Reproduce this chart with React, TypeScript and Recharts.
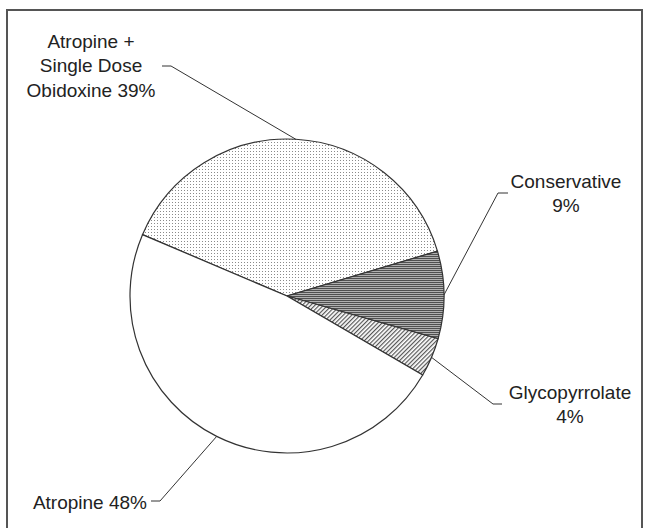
import React from "react";
import { PieChart, Pie, Cell } from "recharts";

// ---- data ----
const categories = [
  "Atropine + Single Dose Obidoxine",
  "Conservative",
  "Glycopyrrolate",
  "Atropine",
];
const shares = [39, 9, 4, 48];
const nameLines = [
  ["Atropine +", "Single Dose", "Obidoxine"],
  ["Conservative"],
  ["Glycopyrrolate"],
  ["Atropine"],
];
const percentOnOwnLine = [false, true, true, false];

// ---- styling / layout (not data) ----
const fills = ["url(#dots)", "url(#hlines)", "url(#hatch)", "#ffffff"];
// label layout relative to the pie centre
const labelLayout = [
  { elbow: [-116, -230], end: [-125, -230], tx: -196, ty: -255, anchor: "middle" },
  { elbow: [211, -103], end: [221, -103], tx: 279, ty: -115, anchor: "middle" },
  { elbow: [206, 108], end: [215, 108], tx: 283, ty: 96, anchor: "middle" },
  { elbow: [-127, 205], end: [-136, 205], tx: -140, ty: 206, anchor: "end" },
];

const data = categories.map((name, i) => ({ name, value: shares[i] }));

const RAD = Math.PI / 180;
const LINE_H = 24.5;

const renderLabel = (props: any) => {
  const { cx, cy, midAngle, outerRadius, index } = props;
  const lay = labelLayout[index];
  const sx = cx + outerRadius * Math.cos(midAngle * RAD);
  const sy = cy - outerRadius * Math.sin(midAngle * RAD);
  const ex = cx + lay.elbow[0];
  const ey = cy + lay.elbow[1];
  const fx = cx + lay.end[0];
  const fy = cy + lay.end[1];
  const lines = [...nameLines[index]];
  const pct = `${shares[index]}%`;
  if (percentOnOwnLine[index]) lines.push(pct);
  else lines[lines.length - 1] = `${lines[lines.length - 1]} ${pct}`;
  return (
    <g key={`lbl-${index}`}>
      <polyline
        points={`${sx},${sy} ${ex},${ey} ${fx},${fy}`}
        fill="none"
        stroke="#333"
        strokeWidth={1}
      />
      <text
        x={cx + lay.tx}
        y={cy + lay.ty}
        textAnchor={lay.anchor}
        fontFamily="'Liberation Sans', Arial, sans-serif"
        fontSize={19}
        fill="#222"
      >
        {lines.map((l, k) => (
          <tspan
            key={k}
            x={cx + lay.tx}
            y={cy + lay.ty + k * LINE_H}
            dominantBaseline="central"
          >
            {l}
          </tspan>
        ))}
      </text>
    </g>
  );
};

export default function App() {
  return (
    <>
      <style>{`html,body{margin:0;padding:0;background:#fff;}`}</style>
      <div style={{ position: "relative", width: 645, height: 528, overflow: "hidden", background: "#fff" }}>
        <div style={{ position: "absolute", left: 0, top: 0 }}>
          <PieChart width={645} height={528}>
            <defs>
              <pattern id="dots" patternUnits="userSpaceOnUse" width={3} height={3}>
                <rect width={3} height={3} fill="#fff" />
                <rect x={1} y={1} width={1} height={1} fill="#8a8a8a" />
              </pattern>
              <pattern id="hlines" patternUnits="userSpaceOnUse" width={4} height={2}>
                <rect width={4} height={2} fill="#b0b0b0" />
                <rect width={4} height={1} fill="#505050" />
              </pattern>
              <pattern
                id="hatch"
                patternUnits="userSpaceOnUse"
                width={3}
                height={3}
                patternTransform="rotate(45)"
              >
                <rect width={3} height={3} fill="#fff" />
                <rect width={1.2} height={3} fill="#555" />
              </pattern>
            </defs>
            <Pie
              data={data}
              dataKey="value"
              nameKey="name"
              cx={282}
              cy={291}
              outerRadius={157}
              startAngle={157}
              endAngle={-203}
              stroke="#333"
              strokeWidth={1.2}
              label={renderLabel}
              labelLine={false}
              isAnimationActive={false}
            >
              {data.map((d, i) => (
                <Cell key={d.name} fill={fills[i]} />
              ))}
            </Pie>
          </PieChart>
        </div>
        <svg
          width={645}
          height={528}
          style={{ position: "absolute", left: 0, top: 0, pointerEvents: "none" }}
        >
          <path d="M7,540 L7,10 L642,10 L642,540" fill="none" stroke="#555" strokeWidth={2} />
        </svg>
      </div>
    </>
  );
}
